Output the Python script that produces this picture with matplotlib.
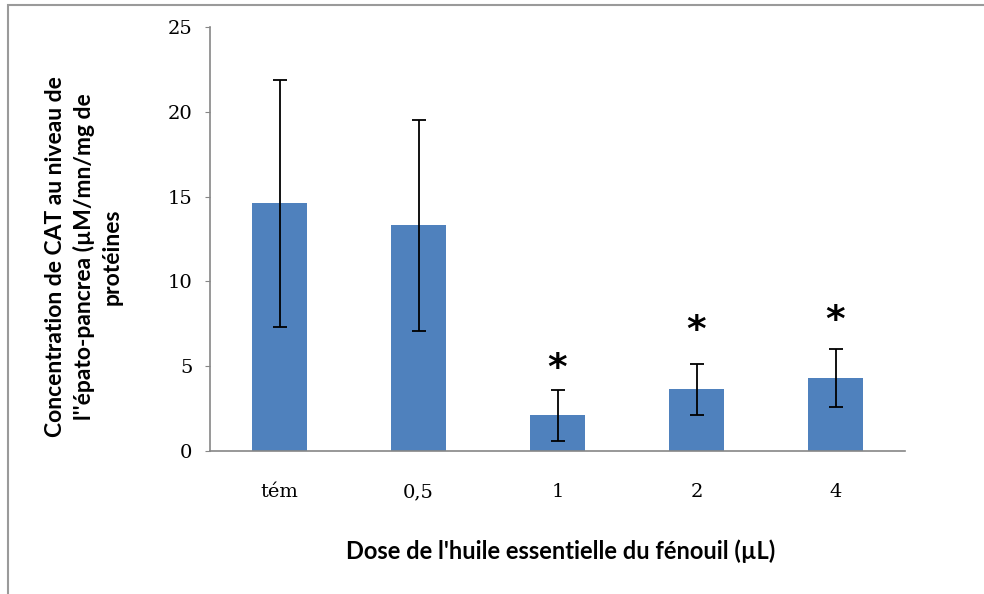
import matplotlib.pyplot as plt
from matplotlib.patches import Rectangle

# Données
doses = ['tém', '0,5', '1', '2', '4']
cat_moyenne = [14.6, 13.3, 2.1, 3.65, 4.3]
cat_erreur = [7.3, 6.2, 1.5, 1.5, 1.7]
significatif = [False, False, True, True, True]
etoile_y = [0, 0, 4.25, 6.5, 7.1]


def chart_creator(output_path):
    fig = plt.figure(figsize=(9.84, 5.94), dpi=100)
    ax = fig.add_axes([210 / 984, 1 - 451 / 594, 695 / 984, 424 / 594])

    x = list(range(len(doses)))
    ax.bar(x, cat_moyenne, width=0.4, color='#4F81BD', zorder=2)
    ax.errorbar(x, cat_moyenne, yerr=cat_erreur, fmt='none', ecolor='black',
                elinewidth=1.3, capsize=4.7, capthick=1.3, zorder=3)

    # Étoiles de significativité
    for i, sig in enumerate(significatif):
        if sig:
            ax.text(i, etoile_y[i], '*', ha='center', va='baseline',
                    fontsize=27, fontweight='bold', color='black')

    ax.set_xlim(-0.5, len(doses) - 0.5)
    ax.set_ylim(0, 25)
    ax.set_yticks([0, 5, 10, 15, 20, 25])
    ax.set_xticks(x)
    ax.set_xticklabels(doses)

    for lab in ax.get_xticklabels() + ax.get_yticklabels():
        lab.set_fontfamily('DejaVu Serif')
        lab.set_fontsize(14)
    ax.tick_params(axis='x', length=0, pad=23)
    ax.tick_params(axis='y', length=3.6, pad=9, color='#868686', direction='out')

    for s in ['top', 'right']:
        ax.spines[s].set_visible(False)
    for s in ['left', 'bottom']:
        ax.spines[s].set_color('#868686')
        ax.spines[s].set_linewidth(1.2)

    fig.text(84 / 984, 1 - 257 / 594,
             "Concentration de CAT au niveau de\nl''épato-pancrea (µM/mn/mg de\nprotéines",
             rotation=90, ha='center', va='center', multialignment='center',
             fontsize=16.5, fontweight='bold', family='Lato', linespacing=1.4)
    fig.text(561 / 984, 1 - 551 / 594, "Dose de l'huile essentielle du fénouil (µL)",
             ha='center', va='center', fontsize=17, fontweight='bold', family='Lato')

    # Cadre du graphique (coupé à droite et en bas)
    fig.add_artist(Rectangle((8 / 984, -0.1), 1.1, 1.1 - 5 / 594,
                             transform=fig.transFigure, fill=False,
                             edgecolor='#9a9a9a', linewidth=1.5))

    fig.savefig(output_path, dpi=100)


def main():
    chart_creator('out.png')


if __name__ == '__main__':
    main()
